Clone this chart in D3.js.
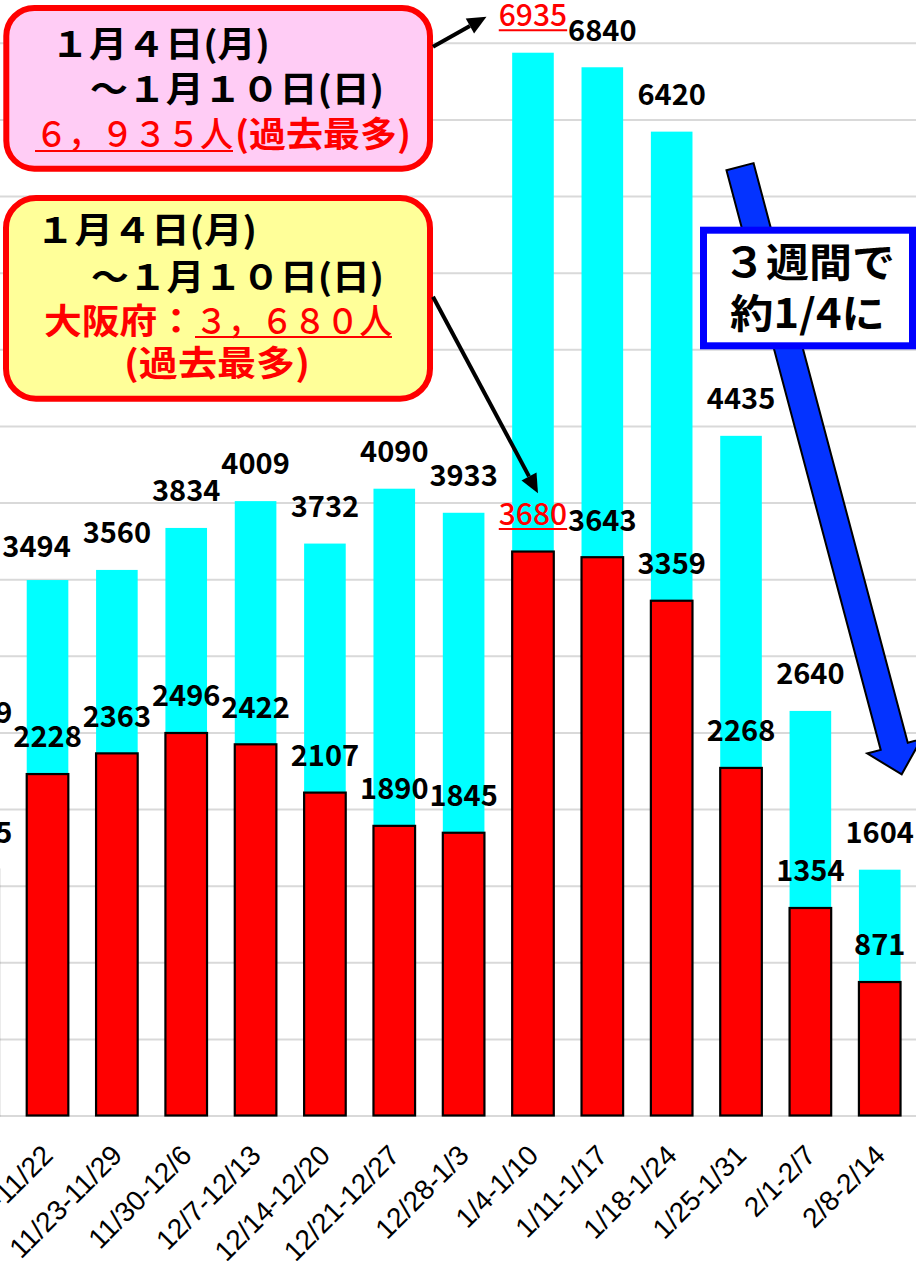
<!DOCTYPE html>
<html>
<head>
<meta charset="utf-8">
<script src="https://cdn.jsdelivr.net/npm/d3@7"></script>
<style>
  html, body { margin: 0; padding: 0; background: #fff; overflow: hidden; }
  svg { display: block; }
  text { font-family: "Noto Sans CJK JP", "Noto Sans", sans-serif; }
</style>
</head>
<body>
<svg id="chart" width="916" height="1261"></svg>
<script>
// weekly new cases: cyan = total, red = Osaka
var weeks = ["11/9-11/15", "11/16-11/22", "11/23-11/29", "11/30-12/6", "12/7-12/13",
  "12/14-12/20", "12/21-12/27", "12/28-1/3", "1/4-1/10", "1/11-1/17", "1/18-1/24",
  "1/25-1/31", "2/1-2/7", "2/8-2/14"];
var totalCases = [2389, 3494, 3560, 3834, 4009, 3732, 4090, 3933, 6935, 6840, 6420, 4435, 2640, 1604];
var osakaCases = [1605, 2228, 2363, 2496, 2422, 2107, 1890, 1845, 3680, 3643, 3359, 2268, 1354, 871];
var gridTicks = d3.range(0, 7001, 500);
var recordWeek = "1/4-1/10";

// one label was dragged a little in the original
var labelNudge = {"total:11/16-11/22": [-11, 4]};

var W = 916;
var svg = d3.select("#chart");

// plot area is cropped on the left, so the band range starts off screen
var x = d3.scaleBand().domain(weeks).range([-56.5, 914.4]).paddingInner(0.4).paddingOuter(0.2);
var y = d3.scaleLinear().domain([0, 7000]).range([1115.5, 42.75]);
var cx = function(w) { return x(w) + x.bandwidth() / 2; };

var rows = weeks.map(function(w, i) { return {week: w, total: totalCases[i], osaka: osakaCases[i]}; });

// gridlines
svg.append("g")
  .call(d3.axisLeft(y).tickValues(gridTicks).tickSize(-W).tickFormat(""))
  .call(function(g) { g.select(".domain").remove(); })
  .call(function(g) { g.selectAll("line").attr("stroke", "#d9d9d9").attr("stroke-width", 2); });

// bars
svg.append("g").selectAll("rect").data(rows).join("rect")
  .attr("x", function(d) { return x(d.week); })
  .attr("y", function(d) { return y(d.total); })
  .attr("width", x.bandwidth())
  .attr("height", function(d) { return y(0) - y(d.total); })
  .attr("fill", "#00ffff");

svg.append("g").selectAll("rect").data(rows).join("rect")
  .attr("x", function(d) { return x(d.week); })
  .attr("y", function(d) { return y(d.osaka); })
  .attr("width", x.bandwidth())
  .attr("height", function(d) { return y(0) - y(d.osaka); })
  .attr("fill", "#ff0000")
  .attr("stroke", "#000")
  .attr("stroke-width", 2.2);

// value labels
function valueLabels(key) {
  var g = svg.append("g");
  var nudge = function(d) { return labelNudge[key + ":" + d.week] || [0, 0]; };
  g.selectAll("text").data(rows).join("text")
    .attr("x", function(d) { return cx(d.week) + nudge(d)[0]; })
    .attr("y", function(d) { return y(d[key]) - 26.7 + nudge(d)[1]; })
    .attr("text-anchor", "middle")
    .style("font-size", function(d) { return d.week === recordWeek ? "30px" : "29px"; })
    .style("font-weight", function(d) { return d.week === recordWeek ? 500 : 700; })
    .attr("fill", function(d) { return d.week === recordWeek ? "#ff0000" : "#000"; })
    .text(function(d) { return d[key]; })
    .each(function(d) {
      if (d.week !== recordWeek) return;
      var len = this.getComputedTextLength();
      g.append("line")
        .attr("x1", cx(d.week) - len / 2).attr("x2", cx(d.week) + len / 2)
        .attr("y1", y(d[key]) - 22.5).attr("y2", y(d[key]) - 22.5)
        .attr("stroke", "#ff0000").attr("stroke-width", 2);
    });
}
valueLabels("total");
valueLabels("osaka");

// category axis
svg.append("g")
  .attr("transform", "translate(0,1115.5)")
  .call(d3.axisBottom(x).tickSize(0))
  .call(function(g) { g.select(".domain").remove(); })
  .selectAll("text")
    .attr("y", null)
    .attr("dy", "0.35em")
    .attr("transform", "translate(0,34.5) rotate(-45)")
    .attr("text-anchor", "end")
    .attr("fill", "#000")
    .style("font-family", "'Liberation Sans', Arial, sans-serif")
    .style("font-size", "28px");

// big blue arrow
var S = [740, 166.7], T = [901.7, 774.3];
var len = Math.hypot(T[0] - S[0], T[1] - S[1]);
var d = [(T[0] - S[0]) / len, (T[1] - S[1]) / len];
var L = [-d[1], d[0]], R = [d[1], -d[0]];
var hw = 14, headW = 28, headL = 29;
var B = [T[0] - headL * d[0], T[1] - headL * d[1]];
function pt(p, v, k) { return [p[0] + v[0] * k, p[1] + v[1] * k]; }
svg.append("polygon")
  .attr("points", [pt(S, R, hw), pt(B, R, hw), pt(B, R, headW), T, pt(B, L, headW), pt(B, L, hw), pt(S, L, hw)]
    .map(function(p) { return p.join(","); }).join(" "))
  .attr("fill", "#0433ff").attr("stroke", "#000").attr("stroke-width", 2).attr("stroke-linejoin", "miter");

// annotation boxes
function textLine(str, x0, base, width, color, weight, size) {
  svg.append("text")
    .attr("x", x0).attr("y", base)
    .attr("textLength", width).attr("lengthAdjust", "spacingAndGlyphs")
    .attr("fill", color)
    .style("font-size", (size || 35) + "px")
    .style("font-weight", weight)
    .text(str);
}
function underline(x1, x2, yy) {
  svg.append("line").attr("x1", x1).attr("x2", x2).attr("y1", yy).attr("y2", yy)
    .attr("stroke", "#ff0000").attr("stroke-width", 2);
}

svg.append("rect").attr("x", 6.3).attr("y", 8).attr("width", 423.7).attr("height", 160.7)
  .attr("rx", 28).attr("fill", "#ffccf5").attr("stroke", "#ff0000").attr("stroke-width", 6);
textLine("１月４日(月)", 51, 56.5, 219, "#000", 700);
textLine("～１月１０日(日)", 90, 101.5, 294, "#000", 700);
textLine("６，９３５人", 35, 146.5, 198, "#ff0000", 500);
textLine("(過去最多)", 235, 146.5, 176, "#ff0000", 700);
underline(35, 233, 151);

svg.append("rect").attr("x", 6).attr("y", 198).attr("width", 424).attr("height", 200.7)
  .attr("rx", 30).attr("fill", "#ffff99").attr("stroke", "#ff0000").attr("stroke-width", 6);
textLine("１月４日(月)", 36, 243, 221, "#000", 700);
textLine("～１月１０日(日)", 91, 290, 293, "#000", 700);
textLine("大阪府：", 44, 334, 151, "#ff0000", 700);
textLine("３，６８０人", 195, 334, 197, "#ff0000", 500);
underline(195, 392, 337);
textLine("(過去最多)", 124, 376, 186, "#ff0000", 700);

svg.append("rect").attr("x", 703.5).attr("y", 230.2).attr("width", 209).attr("height", 115.6)
  .attr("fill", "#fff").attr("stroke", "#0000ff").attr("stroke-width", 7);
textLine("３週間で", 723, 277, 172, "#000", 700, 40);
textLine("約1/4に", 730, 328, 155, "#000", 700, 40);

// black pointer arrows
function pointer(x1, y1, x2, y2) {
  var l = Math.hypot(x2 - x1, y2 - y1), u = [(x2 - x1) / l, (y2 - y1) / l];
  var headLen = 19, half = 8.5;
  var b = [x2 - u[0] * headLen, y2 - u[1] * headLen];
  svg.append("line").attr("x1", x1).attr("y1", y1).attr("x2", b[0]).attr("y2", b[1])
    .attr("stroke", "#000").attr("stroke-width", 4);
  svg.append("polygon")
    .attr("points", [[x2, y2], [b[0] - u[1] * half, b[1] + u[0] * half], [b[0] + u[1] * half, b[1] - u[0] * half]]
      .map(function(p) { return p.join(","); }).join(" "))
    .attr("fill", "#000");
}
pointer(433, 46.7, cx(recordWeek) - 46.5, y(totalCases[weeks.indexOf(recordWeek)]) - 36);
pointer(433, 296.7, cx(recordWeek) + 5, y(osakaCases[weeks.indexOf(recordWeek)]) - 58.4);
</script>
</body>
</html>
